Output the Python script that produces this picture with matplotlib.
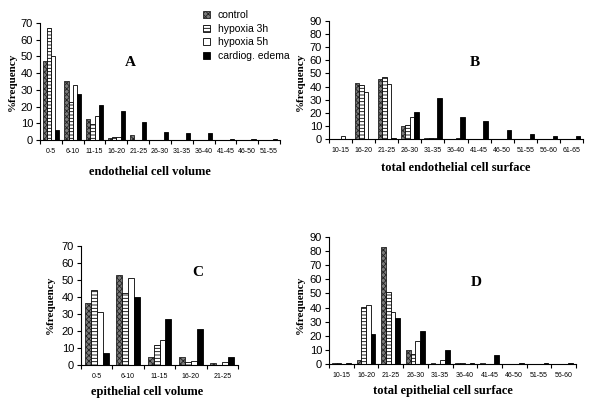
import matplotlib
matplotlib.use("Agg")
import matplotlib.pyplot as plt
import numpy as np

plt.rcParams['hatch.linewidth'] = 0.6

series_names = ["control", "hypoxia 3h", "hypoxia 5h", "cardiog. edema"]

# Panel A: endothelial cell volume
cats_A = ["0-5", "6-10", "11-15", "16-20", "21-25", "26-30", "31-35", "36-40", "41-45", "46-50", "51-55"]
control_A = [47.5, 35.5, 12.5, 1, 3, 0, 0, 0, 0, 0, 0]
hyp3_A = [67, 23, 9.5, 1.5, 0, 0, 0, 0, 0, 0, 0]
hyp5_A = [50, 33, 14.5, 2, 0, 0, 0, 0, 0, 0, 0]
cardio_A = [6, 27.5, 21, 17.5, 11, 5, 4, 4, 0.3, 0.3, 0.3]

# Panel B: total endothelial cell surface
cats_B = ["10-15", "16-20", "21-25", "26-30", "31-35", "36-40", "41-45", "46-50", "51-55", "56-60", "61-65"]
control_B = [0, 43, 45.5, 10, 1, 0, 0, 0, 0, 0, 0]
hyp3_B = [0, 41, 47, 11, 1, 0, 0, 0, 0, 0, 0]
hyp5_B = [2, 36, 42, 16.5, 1, 1, 0, 0, 0, 0, 0]
cardio_B = [0, 0, 0.5, 20.5, 31, 17, 14, 7, 3.5, 2.5, 2.5]

# Panel C: epithelial cell volume
cats_C = ["0-5", "6-10", "11-15", "16-20", "21-25"]
control_C = [36.5, 53, 4.5, 4.5, 1]
hyp3_C = [44, 42.5, 12, 1.5, 0]
hyp5_C = [31, 51, 14.5, 2.5, 1.5]
cardio_C = [7, 40, 27, 21, 4.5]

# Panel D: total epithelial cell surface
cats_D = ["10-15", "16-20", "21-25", "26-30", "31-35", "36-40", "41-45", "46-50", "51-55", "56-60"]
control_D = [0.5, 3, 83, 10, 0.5, 0.5, 0.5, 0, 0, 0]
hyp3_D = [0.5, 40.5, 51, 7, 0, 0.5, 0, 0, 0, 0]
hyp5_D = [0, 42, 37, 16.5, 3, 0, 0, 0, 0, 0]
cardio_D = [0.5, 21.5, 32.5, 23.5, 10, 1, 6.5, 0.5, 1, 1]

styles = [
    dict(facecolor="#7a7a7a", hatch="xxxxxx", edgecolor="#222222"),
    dict(facecolor="white", hatch="-----", edgecolor="black"),
    dict(facecolor="white", hatch=None, edgecolor="black"),
    dict(facecolor="black", hatch=None, edgecolor="black"),
]

W, H = 600, 413
fig = plt.figure(figsize=(6, 4.13), dpi=100)

def px_axes(l, r, t, b):
    return fig.add_axes([l / W, 1 - b / H, (r - l) / W, (b - t) / H])

def panel(ax, cats, data, ymax, ystep, letter, lx, ly, xlabel, xlx, xly, ylx, yly):
    n = len(cats)
    x = np.arange(n)
    bw = 0.19
    handles = []
    for i, (vals, st) in enumerate(zip(data, styles)):
        h = ax.bar(x + (i - 1.5) * bw, vals, width=bw, linewidth=0.6, **st)
        handles.append(h)
    ax.set_xlim(-0.5, n - 0.5)
    ax.set_ylim(0, ymax)
    ax.set_yticks(np.arange(0, ymax + 1, ystep))
    ax.tick_params(axis="y", labelsize=8, length=3, width=0.8, pad=2)
    ax.set_xticks(np.arange(n + 1) - 0.5)
    ax.set_xticklabels([])
    ax.set_xticks(x, minor=True)
    ax.set_xticklabels(cats, minor=True, fontsize=5)
    ax.tick_params(axis="x", which="major", length=3, width=0.8)
    ax.tick_params(axis="x", which="minor", length=0, pad=6)
    for s in ["top", "right"]:
        ax.spines[s].set_visible(False)
    for s in ["left", "bottom"]:
        ax.spines[s].set_linewidth(0.8)
    for lab in ax.get_yticklabels():
        lab.set_family("Liberation Sans")
    for lab in ax.get_xticklabels(minor=True):
        lab.set_family("Liberation Sans")
    fig.text(lx / W, 1 - ly / H, letter, family="Liberation Serif", weight="bold",
             fontsize=11, ha="center", va="center")
    fig.text(xlx / W, 1 - xly / H, xlabel, family="Liberation Serif", weight="bold",
             fontsize=9, ha="center", va="center")
    fig.text(ylx / W, 1 - yly / H, "%frequency", family="Liberation Serif", weight="bold",
             fontsize=8, ha="center", va="center", rotation=90)
    return handles

axA = px_axes(40, 280, 23, 140)
hA = panel(axA, cats_A, [control_A, hyp3_A, hyp5_A, cardio_A], 70, 10, "A", 130, 62,
           "endothelial cell volume", 150, 172, 12, 82)

axB = px_axes(329, 583, 21, 139)
panel(axB, cats_B, [control_B, hyp3_B, hyp5_B, cardio_B], 90, 10, "B", 475, 62,
      "total endothelial cell surface", 456, 168, 300, 82)

axC = px_axes(81, 238, 246, 365)
panel(axC, cats_C, [control_C, hyp3_C, hyp5_C, cardio_C], 70, 10, "C", 198, 272,
      "epithelial cell volume", 147, 392, 50, 305)

axD = px_axes(329, 576, 237, 364)
panel(axD, cats_D, [control_D, hyp3_D, hyp5_D, cardio_D], 90, 10, "D", 476, 282,
      "total epithelial cell surface", 443, 391, 300, 305)

leg = fig.legend(hA, series_names, loc="upper left", bbox_to_anchor=(199 / W, 1 - 6 / H),
                 frameon=False, handlelength=0.7, handleheight=0.7,
                 handletextpad=0.7, labelspacing=0.35, borderaxespad=0,
                 prop={"family": "Liberation Sans", "size": 7.5})

fig.savefig("out.png", dpi=100)
